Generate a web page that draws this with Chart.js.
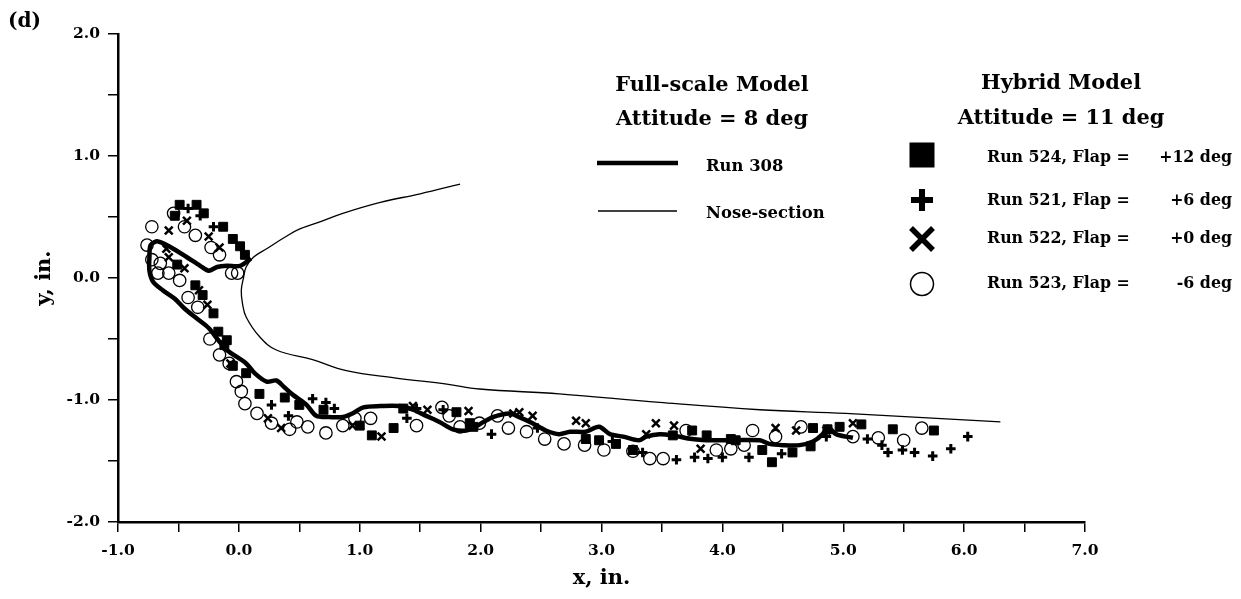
<!DOCTYPE html>
<html>
<head>
<meta charset="utf-8">
<script src="https://cdn.jsdelivr.net/npm/chart.js@4.4.1/dist/chart.umd.min.js"></script>
<style>
  html, body { margin: 0; padding: 0; background: #fff; }
  #wrap { width: 1241px; height: 599px; }
</style>
</head>
<body>
<div id="wrap"><canvas id="fig" width="1241" height="599"></canvas></div>
<script>
// axis ranges (inches)
const xRange = [-1, 7];
const yRange = [-2, 2];

// full-scale model, run 308 (thick line) - [x, y] in inches
const run308 = [
  [0.10, 0.16], [0.01, 0.10], [-0.10, 0.10], [-0.18, 0.09], [-0.25, 0.06], [-0.32, 0.10],
  [-0.43, 0.17], [-0.56, 0.25], [-0.67, 0.30], [-0.73, 0.27], [-0.74, 0.17], [-0.74, 0.06],
  [-0.71, -0.03], [-0.63, -0.10], [-0.53, -0.17], [-0.45, -0.25], [-0.35, -0.33], [-0.25, -0.41],
  [-0.17, -0.51], [-0.10, -0.59], [0.06, -0.70], [0.13, -0.78], [0.23, -0.85], [0.31, -0.84],
  [0.37, -0.89], [0.45, -0.96], [0.56, -1.04], [0.64, -1.13], [0.75, -1.14], [0.86, -1.14],
  [0.94, -1.11], [1.03, -1.06], [1.17, -1.05], [1.33, -1.05], [1.44, -1.08], [1.55, -1.13],
  [1.66, -1.18], [1.77, -1.24], [1.88, -1.25], [1.99, -1.20], [2.10, -1.14], [2.24, -1.11],
  [2.32, -1.14], [2.43, -1.19], [2.54, -1.25], [2.65, -1.28], [2.74, -1.26], [2.87, -1.26],
  [2.98, -1.22], [3.07, -1.28], [3.18, -1.30], [3.31, -1.33], [3.37, -1.30], [3.48, -1.28],
  [3.59, -1.29], [3.75, -1.32], [3.87, -1.33], [4.09, -1.33], [4.31, -1.33], [4.39, -1.36],
  [4.50, -1.37], [4.64, -1.37], [4.75, -1.34], [4.83, -1.28], [4.87, -1.22], [4.94, -1.28],
  [5.08, -1.31]
];

// nose-section outline
const noseSection = [
  [1.83, 0.77], [1.50, 0.69], [1.17, 0.62], [0.86, 0.53], [0.67, 0.46], [0.50, 0.40],
  [0.39, 0.34], [0.23, 0.24], [0.12, 0.17], [0.06, 0.09], [0.04, 0.01], [0.02, -0.10],
  [0.03, -0.21], [0.06, -0.32], [0.17, -0.48], [0.31, -0.59], [0.61, -0.67], [0.89, -0.76],
  [1.30, -0.82], [1.72, -0.87], [1.99, -0.91], [2.65, -0.95], [3.48, -1.02], [4.31, -1.08],
  [5.02, -1.11], [6.30, -1.18]
];

// hybrid model runs
const run524 = [ // squares, flap +12
  [-0.49, 0.60], [-0.35, 0.60], [-0.53, 0.51], [-0.29, 0.53], [-0.13, 0.42], [-0.05, 0.32],
  [0.01, 0.26], [0.05, 0.19], [-0.51, 0.11], [-0.36, -0.06], [-0.30, -0.14], [-0.21, -0.29],
  [-0.17, -0.44], [-0.12, -0.55], [-0.10, -0.51], [-0.05, -0.72], [0.06, -0.78], [0.17, -0.95],
  [0.38, -0.98], [0.50, -1.04], [0.70, -1.08], [1.00, -1.21], [1.10, -1.29], [1.28, -1.23],
  [1.36, -1.07], [1.80, -1.10], [1.94, -1.22], [1.91, -1.19], [2.87, -1.32], [2.98, -1.33],
  [3.12, -1.36], [3.26, -1.41], [3.59, -1.29], [3.75, -1.25], [3.87, -1.29], [4.07, -1.32],
  [4.11, -1.33], [4.33, -1.41], [4.41, -1.51], [4.58, -1.43], [4.73, -1.38], [4.75, -1.23],
  [4.87, -1.24], [4.97, -1.22], [5.15, -1.20], [5.41, -1.24], [5.75, -1.25]
];
const run521 = [ // plus, flap +6
  [-0.42, 0.57], [-0.32, 0.51], [-0.21, 0.42], [0.27, -1.04], [0.41, -1.13], [0.61, -0.99],
  [0.72, -1.02], [0.79, -1.07], [1.39, -1.15], [1.47, -1.07], [1.69, -1.08], [2.09, -1.28],
  [2.47, -1.23], [3.09, -1.34], [3.34, -1.43], [3.62, -1.49], [3.77, -1.47], [3.88, -1.48],
  [4.00, -1.47], [4.22, -1.47], [4.49, -1.44], [4.86, -1.30], [5.20, -1.32], [5.32, -1.37],
  [5.37, -1.43], [5.49, -1.41], [5.59, -1.43], [5.74, -1.46], [5.89, -1.40], [6.03, -1.30]
];
const run522 = [ // x, flap +0
  [-0.58, 0.39], [-0.43, 0.47], [-0.25, 0.34], [-0.16, 0.25], [-0.60, 0.24], [-0.58, 0.17],
  [-0.45, 0.08], [-0.33, -0.10], [-0.26, -0.22], [-0.07, -0.70], [0.24, -1.15], [0.35, -1.23],
  [0.94, -1.21], [1.18, -1.30], [1.44, -1.05], [1.56, -1.08], [1.90, -1.09], [2.27, -1.11],
  [2.32, -1.10], [2.43, -1.13], [2.79, -1.17], [2.87, -1.19], [3.37, -1.28], [3.45, -1.19],
  [3.60, -1.21], [3.82, -1.40], [4.44, -1.23], [4.61, -1.25], [4.86, -1.25], [5.08, -1.19]
];
const run523 = [ // open circles, flap -6
  [-0.72, 0.42], [-0.54, 0.53], [-0.45, 0.42], [-0.36, 0.35], [-0.23, 0.25], [-0.16, 0.19],
  [-0.76, 0.27], [-0.72, 0.15], [-0.65, 0.12], [-0.67, 0.04], [-0.58, 0.04], [-0.06, 0.04],
  [-0.01, 0.04], [-0.49, -0.02], [-0.42, -0.16], [-0.34, -0.24], [-0.24, -0.50], [-0.16, -0.63],
  [-0.08, -0.70], [-0.02, -0.85], [0.02, -0.93], [0.05, -1.03], [0.15, -1.11], [0.27, -1.19],
  [0.42, -1.24], [0.48, -1.18], [0.57, -1.22], [0.72, -1.27], [0.86, -1.21], [0.96, -1.15],
  [1.09, -1.15], [1.47, -1.21], [1.68, -1.06], [1.74, -1.13], [1.83, -1.22], [1.99, -1.19],
  [2.14, -1.13], [2.23, -1.23], [2.38, -1.26], [2.53, -1.32], [2.69, -1.36], [2.86, -1.37],
  [3.02, -1.41], [3.26, -1.42], [3.40, -1.48], [3.51, -1.48], [3.70, -1.25], [3.95, -1.41],
  [4.07, -1.40], [4.18, -1.37], [4.25, -1.25], [4.44, -1.30], [4.65, -1.22], [5.08, -1.30],
  [5.29, -1.31], [5.50, -1.33], [5.65, -1.23]
];

// texts
const panelTag = '(d)';
const fullScaleTitle = ['Full-scale Model', 'Attitude = 8 deg'];
const lineLabels = ['Run 308', 'Nose-section'];
const hybridTitle = ['Hybrid Model', 'Attitude = 11 deg'];
const runLabels = ['Run 524, Flap =', 'Run 521, Flap =', 'Run 522, Flap =', 'Run 523, Flap ='];
const flapValues = ['+12 deg', '+6 deg', '+0 deg', '-6 deg'];
const markerStyles = ['rect', 'cross', 'crossRot', 'circle'];

const serif = "'DejaVu Serif', 'Liberation Serif', serif";
const toXY = arr => arr.map(p => ({ x: p[0], y: p[1] }));
const tickFmt = v => Math.abs(v - Math.round(v)) < 1e-6 ? Number(v).toFixed(1) : '';

// font size so that a text gets a given width
function fitSize(ctx, s, w) {
  ctx.font = 'bold 20px ' + serif;
  return 20 * w / ctx.measureText(s).width;
}

function drawMarker(ctx, style, x, y, s) {
  ctx.beginPath();
  if (style === 'rect') {
    ctx.fillRect(x - s / 2, y - s / 2, s, s);
    return;
  }
  if (style === 'cross') {
    ctx.lineWidth = 6;
    ctx.moveTo(x - s / 2, y); ctx.lineTo(x + s / 2, y);
    ctx.moveTo(x, y - s / 2); ctx.lineTo(x, y + s / 2);
  } else if (style === 'crossRot') {
    ctx.lineWidth = 5.5;
    ctx.moveTo(x - s / 2, y - s / 2); ctx.lineTo(x + s / 2, y + s / 2);
    ctx.moveTo(x + s / 2, y - s / 2); ctx.lineTo(x - s / 2, y + s / 2);
  } else {
    ctx.lineWidth = 1.5;
    ctx.arc(x, y, s / 2, 0, Math.PI * 2);
  }
  ctx.stroke();
}

const legendPlugin = {
  id: 'figLegend',
  afterDraw(chart) {
    const ctx = chart.ctx;
    ctx.save();
    ctx.fillStyle = '#000';
    ctx.strokeStyle = '#000';
    ctx.textBaseline = 'alphabetic';

    // panel tag
    ctx.font = 'bold ' + fitSize(ctx, panelTag, 33).toFixed(1) + 'px ' + serif;
    ctx.textAlign = 'left';
    ctx.fillText(panelTag, 8, 27);

    // full-scale block
    const tSize = fitSize(ctx, fullScaleTitle[0], 194);
    ctx.font = 'bold ' + tSize.toFixed(1) + 'px ' + serif;
    ctx.textAlign = 'center';
    ctx.fillText(fullScaleTitle[0], 712, 91);
    ctx.fillText(fullScaleTitle[1], 712, 125);

    const lSize = fitSize(ctx, lineLabels[1], 119);
    ctx.font = 'bold ' + lSize.toFixed(1) + 'px ' + serif;
    ctx.textAlign = 'left';
    ctx.fillText(lineLabels[0], 706, 171);
    ctx.fillText(lineLabels[1], 706, 218);
    ctx.lineWidth = 4.5;
    ctx.beginPath(); ctx.moveTo(597, 163); ctx.lineTo(678, 163); ctx.stroke();
    ctx.lineWidth = 1.3;
    ctx.beginPath(); ctx.moveTo(598, 211); ctx.lineTo(677, 211); ctx.stroke();

    // hybrid block
    ctx.font = 'bold ' + tSize.toFixed(1) + 'px ' + serif;
    ctx.textAlign = 'center';
    ctx.fillText(hybridTitle[0], 1061, 89);
    ctx.fillText(hybridTitle[1], 1061, 124);

    const rSize = fitSize(ctx, runLabels[0], 143);
    ctx.font = 'bold ' + rSize.toFixed(1) + 'px ' + serif;
    const rowBase = [162, 205, 243, 288];
    const rowMark = [155, 200, 239, 284];
    const markSize = [25, 22, 22, 23];
    runLabels.forEach((lab, i) => {
      ctx.textAlign = 'left';
      ctx.fillText(lab, 987, rowBase[i]);
      ctx.textAlign = 'right';
      ctx.fillText(flapValues[i], 1232, rowBase[i]);
      drawMarker(ctx, markerStyles[i], 922, rowMark[i], markSize[i]);
    });
    ctx.restore();
  }
};

const tickFont = { family: serif, size: 15.5, weight: 'bold' };
const titleFont = { family: serif, size: 21, weight: 'bold' };

new Chart(document.getElementById('fig'), {
  type: 'scatter',
  data: {
    datasets: [
      { label: lineLabels[0], data: toXY(run308), showLine: true, borderColor: '#000', borderWidth: 4.5,
        pointRadius: 0, tension: 0.3 },
      { label: lineLabels[1], data: toXY(noseSection), showLine: true, borderColor: '#000', borderWidth: 1.3,
        pointRadius: 0, tension: 0.4 },
      { label: runLabels[0], data: toXY(run524), pointStyle: 'rect', pointRadius: 6.3,
        backgroundColor: '#000', borderColor: '#000', borderWidth: 1 },
      { label: runLabels[1], data: toXY(run521), pointStyle: 'cross', pointRadius: 4.8,
        borderColor: '#000', borderWidth: 3 },
      { label: runLabels[2], data: toXY(run522), pointStyle: 'crossRot', pointRadius: 5.5,
        borderColor: '#000', borderWidth: 2.5 },
      { label: runLabels[3], data: toXY(run523), pointStyle: 'circle', pointRadius: 6.2,
        backgroundColor: 'rgba(255,255,255,0)', borderColor: '#000', borderWidth: 1.3 }
    ]
  },
  options: {
    responsive: false,
    animation: false,
    layout: { padding: { top: 34, right: 156, bottom: 0, left: 0 } },
    plugins: { legend: { display: false }, tooltip: { enabled: false } },
    scales: {
      x: {
        type: 'linear', min: xRange[0], max: xRange[1],
        afterFit: s => { s.height = 77; },
        ticks: { stepSize: 0.5, autoSkip: false, maxRotation: 0, padding: 10, color: '#000',
                 font: tickFont, callback: tickFmt },
        grid: { drawOnChartArea: false, tickLength: 10, color: '#000', lineWidth: 1.5 },
        border: { color: '#000', width: 2.5 },
        title: { display: true, text: 'x, in.', color: '#000', font: titleFont, padding: { top: 0, bottom: 8 } }
      },
      y: {
        type: 'linear', min: yRange[0], max: yRange[1],
        afterFit: s => { s.width = 118; },
        ticks: { stepSize: 0.5, autoSkip: false, padding: 8, color: '#000', font: tickFont, callback: tickFmt },
        grid: { drawOnChartArea: false, tickLength: 10, color: '#000', lineWidth: 1.5 },
        border: { color: '#000', width: 2.5 },
        title: { display: true, text: 'y, in.', color: '#000', font: titleFont, padding: { top: 32, bottom: 0 } }
      }
    }
  },
  plugins: [legendPlugin]
});
</script>
</body>
</html>
